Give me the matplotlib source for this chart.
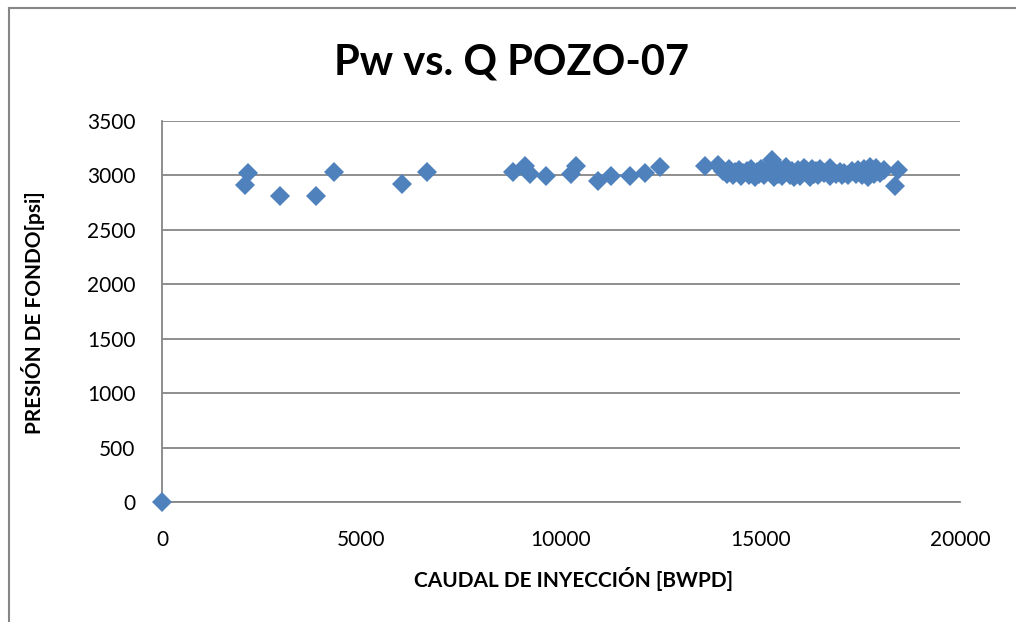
import matplotlib
matplotlib.use('Agg')
from matplotlib import pyplot as plt
from matplotlib.lines import Line2D

# caudal de inyeccion (BWPD) y presion de fondo (psi)
caudal = [0, 2150, 2090, 2950, 3850, 4320, 6010, 6640, 8790, 9090, 9230,
          9620, 10250, 10380, 10930, 11250, 11720, 12110, 12480,
          13620, 13930, 14050, 14150, 14200, 14300, 14350, 14450, 14500,
          14550, 14650, 14700, 14750, 14850, 14900, 14950, 15000, 15100,
          15150, 15280, 15300, 15350, 15400, 15450, 15500, 15550, 15640,
          15700, 15750, 15800, 15850, 15900, 15950, 16000, 16050, 16100,
          16150, 16250, 16300, 16350, 16400, 16450, 16500, 16600, 16740,
          16750, 16800, 16900, 17000, 17050, 17100, 17200, 17300, 17400,
          17450, 17550, 17600, 17650, 17700, 17750, 17800, 17850, 17900,
          17950, 18000, 18100, 18450, 18380]
presion = [0, 3020, 2910, 2810, 2810, 3035, 2920, 3035, 3035, 3085, 3010,
           2995, 3010, 3085, 2950, 2995, 2995, 3020, 3075,
           3085, 3095, 3040, 3010, 3060, 3000, 3030, 3050, 2995,
           3020, 3040, 3005, 3060, 2990, 3030, 3010, 3055, 3000,
           3040, 3145, 3020, 2990, 3080, 3010, 3050, 2995, 3075,
           3030, 3000, 3040, 2985, 3020, 3050, 2995, 3030, 3070,
           3050, 2990, 3060, 3010, 3040, 3000, 3060, 3020, 3070,
           2995, 3045, 3010, 3035, 3000, 3020, 3005, 3040, 3010,
           3050, 3000, 3060, 3020, 2990, 3075, 3030, 3010, 3070,
           3040, 3020, 3050, 3050, 2900]

xticks = [0, 5000, 10000, 15000, 20000]
yticks = [0, 500, 1000, 1500, 2000, 2500, 3000, 3500]

plt.rcParams['font.family'] = ['Lato', 'DejaVu Sans']
grey = '#868686'

fig = plt.figure(figsize=(10.16, 6.22), dpi=100)
ax = fig.add_axes([162/1016, 1 - 502/622, (960-162)/1016, (502-121)/622])

ax.plot(caudal, presion, linestyle='none', marker='D', markersize=10,
        color='#4F81BD', markeredgewidth=0, clip_on=False, zorder=3)

ax.set_xlim(0, 20000)
ax.set_ylim(0, 3500)
ax.set_xticks(xticks)
ax.set_yticks(yticks)
ax.tick_params(length=0, labelsize=15)
ax.tick_params(axis='x', pad=20)
ax.tick_params(axis='y', pad=19)
ax.yaxis.grid(True, color=grey, linewidth=1.3)
ax.set_axisbelow(True)
for s in ['top', 'right']:
    ax.spines[s].set_visible(False)
for s in ['left', 'bottom']:
    ax.spines[s].set_color(grey)
    ax.spines[s].set_linewidth(1.3)

fig.text(574/1016, 1 - 579/622, 'CAUDAL DE INYECCIÓN [BWPD]', fontsize=15,
         fontweight='bold', ha='center', va='center')
fig.text(33/1016, 1 - 313/622, 'PRESIÓN DE FONDO[psi]', fontsize=15,
         fontweight='bold', ha='center', va='center', rotation=90)
fig.text(512/1016, 1 - 62/622, 'Pw vs. Q POZO-07', fontsize=30, fontweight='bold',
         ha='center', va='center')

# chart area border (only left and top edges visible)
fig.add_artist(Line2D([9/1016, 9/1016], [0, 1 - 8/622], transform=fig.transFigure,
                      color=grey, linewidth=1.5))
fig.add_artist(Line2D([9/1016, 1], [1 - 8/622, 1 - 8/622], transform=fig.transFigure,
                      color=grey, linewidth=1.5))

plt.savefig('out.png', dpi=100)
